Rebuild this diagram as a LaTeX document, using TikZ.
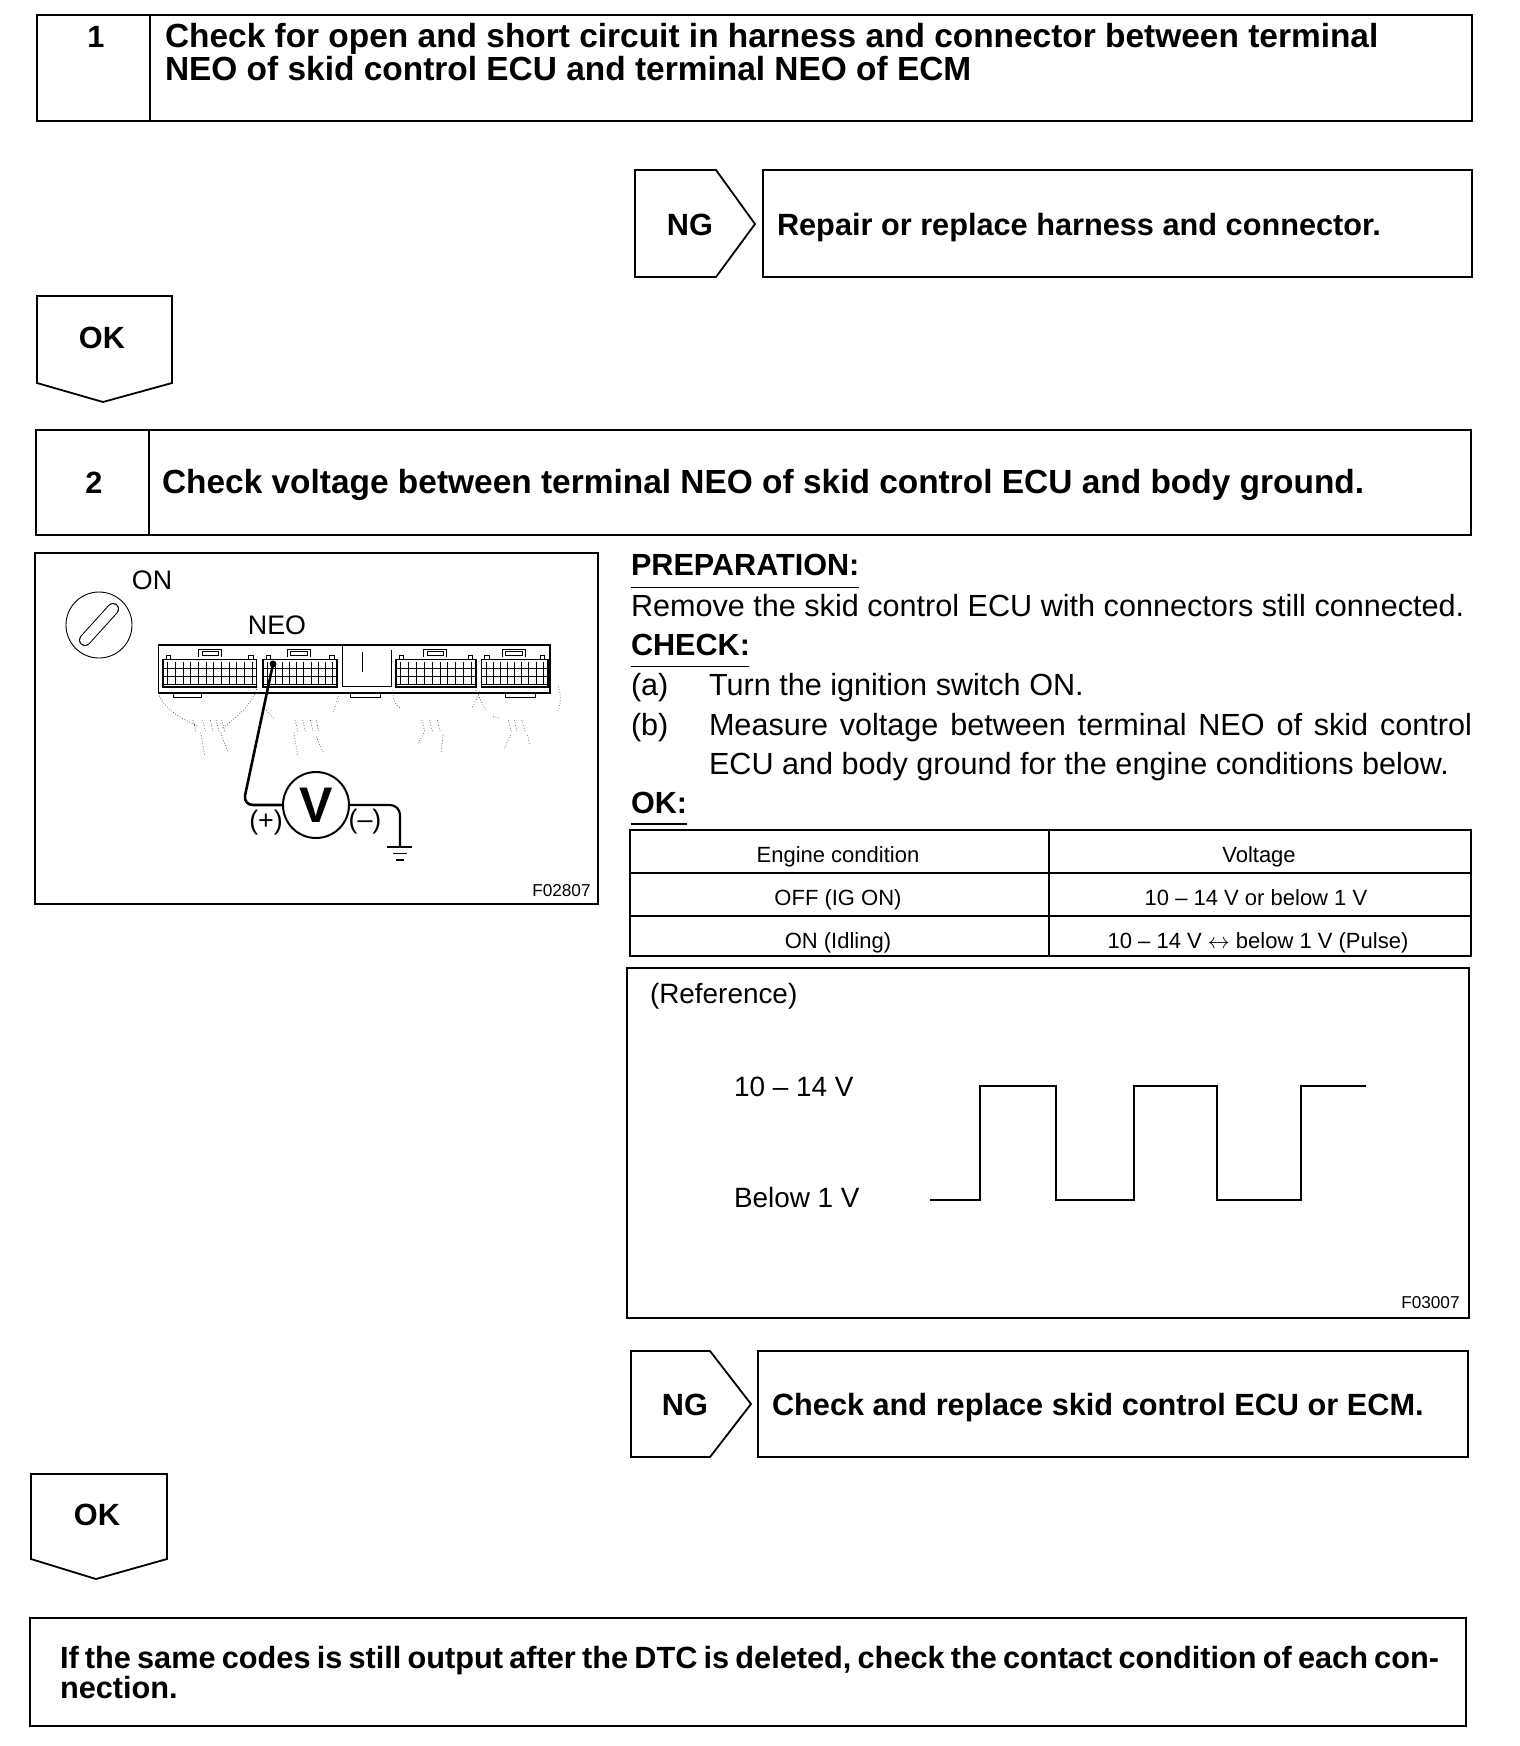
\documentclass[tikz,border=0pt]{standalone}
\usepackage{fontspec}
\setmainfont{Liberation Sans}
\begin{document}
\begin{tikzpicture}[x=0.5pt,y=-0.5pt,
  heavy/.style={draw=black,line width=1.35pt,line join=miter},
  medium/.style={draw=black,line width=0.9pt},
  thin line/.style={draw=black,line width=0.45pt},
  hair line/.style={draw=black,line width=0.35pt},
  harness/.style={draw=black!75,line width=0.35pt,densely dotted},
  txt/.style={inner sep=0pt,outer sep=0pt,anchor=base west},
  bold head/.style={txt,font=\fontsize{15.35}{15}\selectfont\bfseries},
  big head/.style={txt,font=\fontsize{16.72}{15}\selectfont\bfseries},
  bold mid/.style={bold head,anchor=base},
  body/.style={txt,font=\fontsize{15.3}{15}\selectfont},
  ref text/.style={txt,font=\fontsize{13.95}{14}\selectfont},
  sub head/.style={txt,font=\fontsize{15.3}{15}\selectfont\bfseries},
  cell/.style={inner sep=0pt,anchor=base,font=\fontsize{11}{12}\selectfont},
  tiny code/.style={inner sep=0pt,anchor=base east,font=\fontsize{8.6}{9}\selectfont},
  fig text/.style={inner sep=0pt,anchor=base,font=\fontsize{13.4}{14}\selectfont}]
\useasboundingbox (0,0) rectangle (1520,1746);

% ---------- step 1
\draw[heavy] (37,15) rectangle (1472,121);
\draw[heavy] (150,15) -- (150,121);
\node[bold mid] (n1) at (96,47) {1};
\node[big head] (t1a) at (165,47) {Check for open and short circuit in harness and connector between terminal};
\node[big head] (t1b) at (165,80) {NEO of skid control ECU and terminal NEO of ECM};

% ---------- NG 1
\draw[medium] (635,170) -- (716,170) -- (755,224) -- (716,277) -- (635,277) -- cycle;
\node[bold mid] (ng1) at (690,235) {NG};
\draw[heavy] (763,170) rectangle (1472,277);
\node[bold head] (r1) at (777,235) {Repair or replace harness and connector.};

% ---------- OK 1
\draw[medium] (37,296) -- (172,296) -- (172,383) -- (103,402) -- (37,383) -- cycle;
\node[bold mid] (ok1) at (102,348) {OK};

% ---------- step 2
\draw[heavy] (36,430) rectangle (1471,535);
\draw[heavy] (149,430) -- (149,535);
\node[bold mid] (n2) at (94,493) {2};
\node[big head] (t2) at (162,493) {Check voltage between terminal NEO of skid control ECU and body ground.};

% ---------- figure panel
\draw[heavy] (35,553) rectangle (598,904);
\node[fig text] (on) at (152,589) {ON};
\node[fig text] (neo) at (277,634) {NEO};
\draw[thin line] (99,625) circle (33);
\draw[line width=6pt,line cap=round] (85,640) -- (113,609);
\draw[white,line width=5pt,line cap=round] (85,640) -- (113,609);

\begin{scope}[shift={(20,540)},x=0.1923pt,y=-0.16667pt]
  \draw[medium] (360,315) rectangle (1378,458);
  % upper tabs
  \foreach \a in {465,695,1050,1255}{
    \draw[thin line] (\a,352) -- (\a,328) -- (\a+60,328) -- (\a+60,352);
    \draw[hair line] (\a+8,334) rectangle (\a+52,346);
  }
  % lower tabs
  \foreach \a/\b in {398/472,860/938,1262/1340}{
    \draw[thin line] (\a,458) -- (\a,471) -- (\b,471) -- (\b,458);
  }
  % centre section
  \draw[thin line] (838,315) -- (838,440) -- (965,440) -- (965,330);
  \draw[hair line] (890,335) -- (890,395);
  % connector bodies and grids
  \foreach \l/\r/\n in {372/615/11,632/825/9,978/1185/9,1200/1372/8}{
    \draw[thin line] (\l,357) -- (\r,357);
    \draw[medium] (\l,357) -- (\l,440) -- (\r,440) -- (\r,357);
    \draw[hair line] (\l,385) -- (\r,385);
    \draw[hair line] (\l,410) -- (\r,410);
    \draw[hair line] (\l,432) -- (\r,432);
    \foreach \t in {0,...,\n}{
      \draw[hair line] ({\l+12+\t*(\r-\l-24)/\n},365) -- ({\l+12+\t*(\r-\l-24)/\n},432);
    }
    \draw[hair line] (\l+8,357) -- (\l+8,345) -- (\l+20,345) -- (\l+20,357);
    \draw[hair line] (\r-20,357) -- (\r-20,345) -- (\r-8,345) -- (\r-8,357);
  }
  % harness sketches
  \draw[harness] (360,460) .. controls (375,510) and (420,535) .. (465,560);
  \draw[harness] (618,440) .. controls (600,500) and (560,535) .. (525,565);
  \draw[harness] (640,510) -- (660,535);
  \draw[harness] (830,460) -- (815,515);
  \draw[harness] (970,450) .. controls (970,480) and (975,495) .. (990,505);
  \draw[harness] (1185,450) -- (1210,510);
  \draw[harness] (1195,455) -- (1175,505);
  \draw[harness] (1400,440) .. controls (1408,470) and (1405,495) .. (1398,515);
  \draw[harness] (1230,530) -- (1250,535);
  \foreach \a in {450,475,495,510,525,715,735,755,770,1045,1065,1085,1270,1285,1305}{
    \draw[harness] (\a,540) -- (\a+8,578);
  }
  \draw[harness] (470,578) -- (480,645);
  \draw[harness] (522,578) -- (540,635);
  \draw[harness] (712,578) -- (722,645);
  \draw[harness] (770,590) -- (790,640);
  \draw[harness] (1050,580) -- (1035,610);
  \draw[harness] (1100,585) -- (1095,635);
  \draw[harness] (1275,585) -- (1258,630);
  \draw[harness] (1320,585) -- (1325,615);
\end{scope}

% voltmeter
\coordinate (tip) at (273,664);
\coordinate (knee) at (243,805);
\coordinate (rknee) at (400,805);
\coordinate (gnd) at (400,847);
\node[draw=black,line width=1pt,circle,minimum size=33pt,inner sep=0pt,
      font=\fontsize{25}{25}\selectfont\bfseries] (vm) at (316,805) {V};
\draw[line width=1.3pt,rounded corners=5pt] (tip) -- (knee) -- (vm.west);
\draw[line width=1.1pt,rounded corners=5pt] (vm.east) -- (rknee) -- (gnd);
\fill (273,664) circle (3.5);
\draw[medium] (387,847) -- (412,847);
\draw[thin line] (393,853) -- (407,853);
\draw[medium] (396,860) -- (404,860);
\node[fig text] (plus) at (266,829) {(+)};
\node[fig text] (minus) at (365,828) {(–)};
\node[tiny code] (code1) at (591,896) {F02807};

% ---------- instructions
\node[sub head] (prep) at (631,575) {PREPARATION:};
\draw[thin line] (631,587) -- (859,587);
\node[body] (rem) at (631,616) {Remove the skid control ECU with connectors still connected.};
\node[sub head] (chk) at (631,655) {CHECK:};
\draw[thin line] (631,666) -- (749,666);
\node[body] (a) at (631,695) {(a)};
\node[body] (at) at (709,695) {Turn the ignition switch ON.};
\node[body] (b) at (631,735) {(b)};
\node[body] (bt) at (709,735) {\hbox to 381.5pt{Measure\hfil\ voltage\hfil\ between\hfil\ terminal\hfil\ NEO\hfil\ of\hfil\ skid\hfil\ control}};
\node[body] (bu) at (709,774) {ECU and body ground for the engine conditions below.};
\node[sub head] (okk) at (631,813) {OK:};
\draw[medium] (631,824) -- (687,824);

% ---------- table
\draw[heavy] (630,830) rectangle (1471,956);
\draw[heavy] (1049,830) -- (1049,956);
\draw[heavy] (630,873) -- (1471,873);
\draw[heavy] (630,916) -- (1471,916);
\node[cell] (c11) at (838,862) {Engine condition};
\node[cell] (c12) at (1259,862) {Voltage};
\node[cell] (c21) at (838,905) {OFF (IG ON)};
\node[cell] (c22) at (1256,905) {10 – 14 V or below 1 V};
\node[cell] (c31) at (838,948) {ON (Idling)};
\node[cell] (c32) at (1258,948) {10 – 14 V $\leftrightarrow$ below 1 V (Pulse)};

% ---------- reference panel
\draw[heavy] (627,968) rectangle (1469,1318);
\node[ref text] (refl) at (650,1003) {(Reference)};
\node[ref text] (hi) at (734,1096) {10 – 14 V};
\node[ref text] (lo) at (734,1207) {Below 1 V};
\draw[draw=black,line width=0.7pt] (930,1200) -- (980,1200) -- (980,1086) -- (1056,1086) -- (1056,1200) -- (1134,1200) -- (1134,1086) -- (1217,1086) -- (1217,1200) -- (1301,1200) -- (1301,1086) -- (1366,1086);
\node[tiny code] (code2) at (1460,1308) {F03007};

% ---------- NG 2
\draw[medium] (631,1351) -- (710,1351) -- (751,1404) -- (710,1457) -- (631,1457) -- cycle;
\node[bold mid] (ng2) at (685,1415) {NG};
\draw[heavy] (758,1351) rectangle (1468,1457);
\node[bold head] (r2) at (772,1415) {Check and replace skid control ECU or ECM.};

% ---------- OK 2
\draw[medium] (31,1474) -- (167,1474) -- (167,1559) -- (96,1579) -- (31,1559) -- cycle;
\node[bold mid] (ok2) at (97,1525) {OK};

% ---------- final
\draw[heavy] (30,1618) rectangle (1466,1726);
\node[bold head] (f1) at (60,1668) {\spaceskip=3.1pt If the same codes is still output after the DTC is deleted, check the contact condition of each con-};
\node[bold head] (f2) at (60,1698) {nection.};
\end{tikzpicture}
\end{document}
